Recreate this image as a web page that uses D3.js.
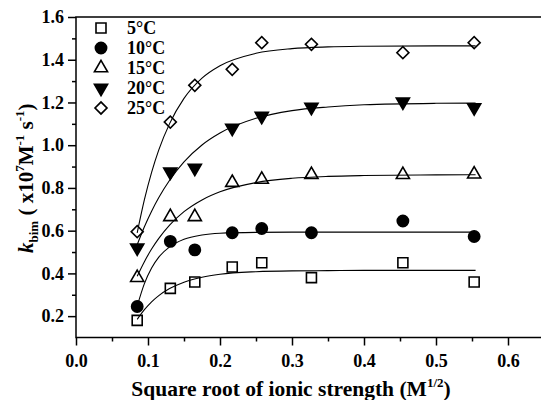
<!DOCTYPE html>
<html>
<head>
<meta charset="utf-8">
<script src="https://cdn.jsdelivr.net/npm/d3@7"></script>
<style>
  html, body { margin: 0; padding: 0; background: #fff; }
  svg { display: block; }
  text { font-family: "Liberation Serif", "Times New Roman", serif; font-weight: bold; fill: #000; }
</style>
</head>
<body>
<svg id="chart" width="541" height="400"></svg>
<script>
// ---- data ----
const seriesNames = ["5°C", "10°C", "15°C", "20°C", "25°C"];
const xValues = [0.085, 0.131, 0.165, 0.217, 0.258, 0.327, 0.454, 0.553];
const k5  = [0.18, 0.33, 0.36, 0.43, 0.45, 0.38, 0.45, 0.36];
const k10 = [0.245, 0.55, 0.51, 0.59, 0.61, 0.59, 0.645, 0.573];
const k15 = [0.38, 0.665, 0.665, 0.825, 0.84, 0.862, 0.862, 0.864];
const k20 = [0.52, 0.875, 0.893, 1.08, 1.136, 1.178, 1.203, 1.176];
const k25 = [0.595, 1.108, 1.28, 1.355, 1.48, 1.472, 1.433, 1.48];

// fitted curves
const fitX   = [0.085, 0.095, 0.105, 0.115, 0.13, 0.15, 0.175, 0.2, 0.25, 0.3, 0.35, 0.4, 0.5, 0.555];
const fit5   = [0.185, 0.230, 0.267, 0.296, 0.329, 0.359, 0.382, 0.396, 0.408, 0.412, 0.413, 0.414, 0.414, 0.414];
const fit10  = [0.247, 0.352, 0.425, 0.476, 0.524, 0.560, 0.580, 0.588, 0.592, 0.593, 0.593, 0.593, 0.593, 0.593];
const fit15  = [0.387, 0.455, 0.514, 0.564, 0.626, 0.689, 0.744, 0.782, 0.825, 0.845, 0.854, 0.858, 0.861, 0.862];
const fit20  = [0.534, 0.618, 0.691, 0.755, 0.836, 0.922, 1.001, 1.057, 1.126, 1.162, 1.179, 1.189, 1.196, 1.197];
const fit25  = [0.590, 0.745, 0.873, 0.978, 1.101, 1.219, 1.314, 1.372, 1.430, 1.452, 1.460, 1.463, 1.465, 1.465];

const xTicks = [0.0, 0.1, 0.2, 0.3, 0.4, 0.5, 0.6];
const yTicks = [0.2, 0.4, 0.6, 0.8, 1.0, 1.2, 1.4, 1.6];

const points = [k5, k10, k15, k20, k25];
const fits = [fit5, fit10, fit15, fit20, fit25];

// ---- layout ----
const svg = d3.select("#chart");
const mLeft = 76, mRight = 544, mTop = 17, mBottom = 337.5;
const x = d3.scaleLinear().domain([0, 0.65]).range([mLeft, mRight]);
const y = d3.scaleLinear().domain([0.1, 1.6]).range([mBottom, mTop]);

// frame
svg.append("rect")
  .attr("x", mLeft).attr("y", mTop)
  .attr("width", mRight - mLeft).attr("height", mBottom - mTop)
  .attr("fill", "none").attr("stroke", "#000").attr("stroke-width", 1.5);

// x axis
const xAxis = d3.axisBottom(x).tickValues(xTicks).tickSize(8).tickPadding(9)
  .tickFormat(d3.format(".1f"));
const gx = svg.append("g").attr("transform", `translate(0,${mBottom})`).call(xAxis);
gx.select(".domain").remove();
gx.selectAll("line").attr("stroke-width", 1.5);
gx.selectAll("text").attr("font-size", 18);
const xMinor = d3.axisBottom(x).tickValues(d3.range(0.05, 0.66, 0.1)).tickSize(4).tickFormat("");
const gxm = svg.append("g").attr("transform", `translate(0,${mBottom})`).call(xMinor);
gxm.select(".domain").remove();
gxm.selectAll("line").attr("stroke-width", 1.5);

// y axis
const yAxis = d3.axisLeft(y).tickValues(yTicks).tickSize(8).tickPadding(4)
  .tickFormat(d3.format(".1f"));
const gy = svg.append("g").attr("transform", `translate(${mLeft},0)`).call(yAxis);
gy.select(".domain").remove();
gy.selectAll("line").attr("stroke-width", 1.5);
gy.selectAll("text").attr("font-size", 18);
const yMinor = d3.axisLeft(y).tickValues(d3.range(0.3, 1.6, 0.2)).tickSize(4).tickFormat("");
const gym = svg.append("g").attr("transform", `translate(${mLeft},0)`).call(yMinor);
gym.select(".domain").remove();
gym.selectAll("line").attr("stroke-width", 1.5);

// fitted lines
const line = d3.line().x(d => x(d[0])).y(d => y(d[1])).curve(d3.curveMonotoneX);
fits.forEach(f => {
  svg.append("path")
    .attr("d", line(fitX.map((xv, i) => [xv, f[i]])))
    .attr("fill", "none").attr("stroke", "#000").attr("stroke-width", 1.1);
});

// markers
const markers = [
  { type: d3.symbolSquare, size: 100, rot: 0, fill: "none" },
  { type: d3.symbolCircle, size: 100, rot: 0, fill: "#000" },
  { type: d3.symbolTriangle, size: 75, rot: 0, fill: "none" },
  { type: d3.symbolTriangle, size: 75, rot: 180, fill: "#000" },
  { type: d3.symbolSquare, size: 72, rot: 45, fill: "none" }
];
function drawMarker(g, m, cx, cy) {
  g.append("path")
    .attr("d", d3.symbol().type(m.type).size(m.size)())
    .attr("transform", `translate(${cx},${cy}) rotate(${m.rot})`)
    .attr("fill", m.fill)
    .attr("stroke", "#000").attr("stroke-width", 1.6);
}
points.forEach((vals, si) => {
  const g = svg.append("g");
  vals.forEach((v, i) => drawMarker(g, markers[si], x(xValues[i]), y(v)));
});

// legend
const lg = svg.append("g");
seriesNames.forEach((name, i) => {
  const ly = 28 + i * 20;
  drawMarker(lg, markers[i], 101, ly);
  lg.append("text").attr("x", 127).attr("y", ly + 6).attr("font-size", 18).text(name);
});

// x title
const xt = svg.append("text").attr("x", 291).attr("y", 396).attr("text-anchor", "middle").attr("font-size", 21.5);
xt.append("tspan").text("Square root of ionic strength (M");
xt.append("tspan").attr("font-size", 13).attr("dy", -9).text("1/2");
xt.append("tspan").attr("dy", 9).text(")");

// y title
const yt = svg.append("text")
  .attr("transform", "translate(33,253) rotate(-90)")
  .attr("text-anchor", "start").attr("font-size", 21);
yt.append("tspan").attr("font-style", "italic").text("k");
yt.append("tspan").attr("font-size", 13).attr("dy", 5).text("bim");
yt.append("tspan").attr("dy", -5).text(" ( x10");
yt.append("tspan").attr("font-size", 13).attr("dy", -9).text("7");
yt.append("tspan").attr("dy", 9).text("M");
yt.append("tspan").attr("font-size", 13).attr("dy", -9).text("-1");
yt.append("tspan").attr("dy", 9).text(" s");
yt.append("tspan").attr("font-size", 13).attr("dy", -9).text("-1");
yt.append("tspan").attr("dy", 9).text(")");
</script>
</body>
</html>
